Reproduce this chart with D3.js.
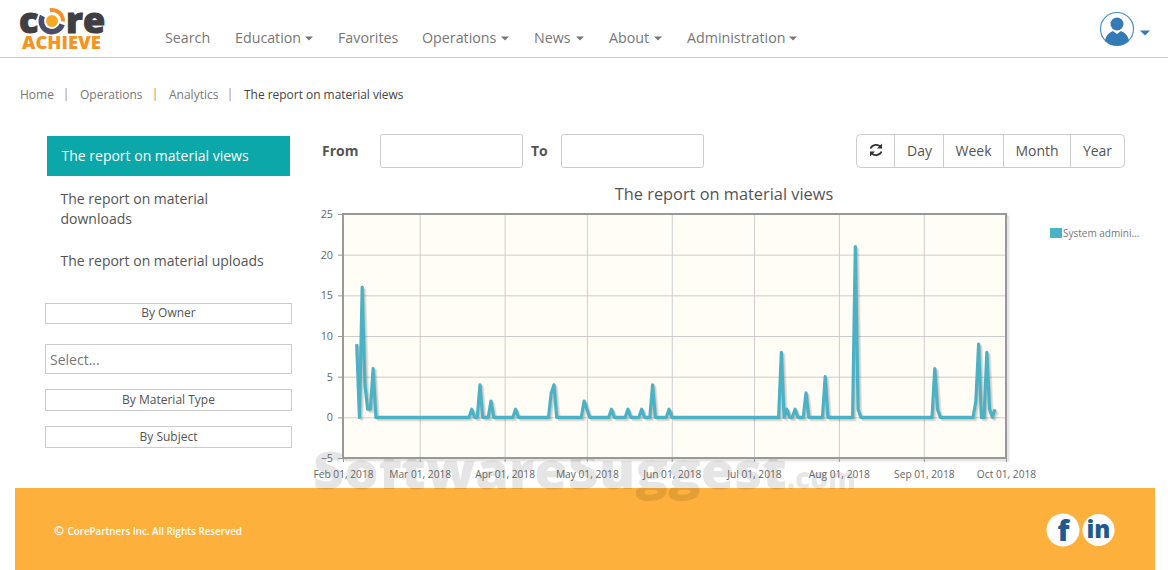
<!DOCTYPE html>
<html>
<head>
<meta charset="utf-8">
<script src="https://cdn.jsdelivr.net/npm/d3@7"></script>
<style>
  html, body { margin: 0; padding: 0; background: #fff; overflow: hidden; }
  svg { display: block; }
  text { font-family: 'Open Sans', sans-serif; }
</style>
</head>
<body>
<div id="page"></div>
<script>
// views per day, first value is Feb 06, 2018
const firstDay = '2018-02-06';
const views = [
  9, 0, 16, 4, 1,
  1, 6, 0, 0, 0, 0, 0, 0, 0, 0,
  0, 0, 0, 0, 0, 0, 0, 0, 0, 0,
  0, 0, 0, 0, 0, 0, 0, 0, 0, 0,
  0, 0, 0, 0, 0, 0, 0, 1, 0, 0,
  4, 0, 0, 0, 2, 0, 0, 0, 0, 0,
  0, 0, 0, 1, 0, 0, 0, 0, 0, 0,
  0, 0, 0, 0, 0, 0, 3, 4, 0, 0,
  0, 0, 0, 0, 0, 0, 0, 0, 2, 1,
  0, 0, 0, 0, 0, 0, 0, 0, 1, 0,
  0, 0, 0, 0, 1, 0, 0, 0, 0, 1,
  0, 0, 0, 4, 0, 0, 0, 0, 0, 1,
  0, 0, 0, 0, 0, 0, 0, 0, 0, 0,
  0, 0, 0, 0, 0, 0, 0, 0, 0, 0,
  0, 0, 0, 0, 0, 0, 0, 0, 0, 0,
  0, 0, 0, 0, 0, 0, 0, 0, 0, 0,
  8, 0, 1, 0, 0, 1, 0, 0, 0, 3,
  0, 0, 0, 0, 0, 0, 5, 0, 0, 0,
  0, 0, 0, 0, 0, 0, 0, 21, 1, 0,
  0, 0, 0, 0, 0, 0, 0, 0, 0, 0,
  0, 0, 0, 0, 0, 0, 0, 0, 0, 0,
  0, 0, 0, 0, 0, 0, 6, 1, 0, 0,
  0, 0, 0, 0, 0, 0, 0, 0, 0, 0,
  0, 2, 9, 0, 0, 8, 1, 0, 1
];
const xTicks = ['2018-02-01', '2018-03-01', '2018-04-01', '2018-05-01', '2018-06-01',
  '2018-07-01', '2018-08-01', '2018-09-01', '2018-10-01'];
const yTicks = [-5, 0, 5, 10, 15, 20, 25];
const seriesName = 'System admini...';
const chartTitle = 'The report on material views';

const width = 1168;
const height = 570;
const plot = { left: 343, right: 1006, top: 214, bottom: 458 };
const lineColor = '#4bb2c5';

const svg = d3.select('#page')
  .append('svg')
  .attr('width', width)
  .attr('height', height);

const label = (txt, x, y, size, fill, anchor, weight) => svg.append('text')
  .attr('x', x)
  .attr('y', y)
  .attr('font-size', size)
  .attr('fill', fill)
  .attr('text-anchor', anchor || 'start')
  .attr('font-weight', weight || 400)
  .text(txt);

const box = (x0, y0, x1, y1, rx) => svg.append('rect')
  .attr('x', x0 + 0.5)
  .attr('y', y0 + 0.5)
  .attr('width', x1 - x0)
  .attr('height', y1 - y0)
  .attr('rx', rx || 0)
  .attr('fill', '#fff')
  .attr('stroke', '#ccc');

const caret = (x, y, w, color) => svg.append('path')
  .attr('d', `M${x},${y}h${w}l${-w / 2},${w / 2}z`)
  .attr('fill', color);

// header
svg.append('line').attr('x1', 0).attr('x2', width).attr('y1', 57.5).attr('y2', 57.5).attr('stroke', '#ccc');

const logo = svg.append('g');
logo.append('text').attr('x', 19).attr('y', 33).attr('font-size', 36).attr('font-weight', 800)
  .attr('fill', '#3f3f41').attr('stroke', '#3f3f41').attr('stroke-width', 1).text('c');
logo.append('text').attr('x', 66).attr('y', 33).attr('font-size', 36).attr('font-weight', 800)
  .attr('fill', '#3f3f41').attr('stroke', '#3f3f41').attr('stroke-width', 1).text('re');
logo.append('path').attr('d', d3.arc()({ innerRadius: 8, outerRadius: 13.5, startAngle: 1.9, endAngle: 5.2 }))
  .attr('transform', 'translate(52,21)').attr('fill', '#4a4c6a');
logo.append('path').attr('d', d3.arc()({ innerRadius: 9, outerRadius: 13, startAngle: -0.2, endAngle: 1.6 }))
  .attr('transform', 'translate(52,21)').attr('fill', '#f58f29');
logo.append('circle').attr('cx', 52).attr('cy', 21).attr('r', 6).attr('fill', '#f9a825');
label('ACHIEVE', 22, 49, 16.8, '#f7941e', 'start', 800).attr('textLength', 79).attr('lengthAdjust', 'spacingAndGlyphs');

const navItems = [['Search', 165], ['Education', 235, 305], ['Favorites', 338], ['Operations', 422, 501],
  ['News', 534, 576], ['About', 609, 654], ['Administration', 687, 789]];
navItems.forEach(([name, x, caretX]) => {
  label(name, x, 43, 14.25, '#777');
  if (caretX) caret(caretX, 36.5, 8, '#777');
});

svg.append('circle').attr('cx', 1117).attr('cy', 29).attr('r', 16.5).attr('fill', '#fff').attr('stroke', '#4a90c8').attr('stroke-width', 1.2);
svg.append('circle').attr('cx', 1117).attr('cy', 24).attr('r', 6.5).attr('fill', '#337ab7');
svg.append('path').attr('d', 'M1105,41c1,-7 6,-9 8,-10l4,3l4,-3c2,1 7,3 8,10c-6,6 -18,6 -24,0z').attr('fill', '#337ab7');
caret(1140, 30.5, 10, '#337ab7');

// breadcrumb
label('Home', 20, 99, 12, '#777');
label('Operations', 80, 99, 12, '#777');
label('Analytics', 169, 99, 12, '#777');
label('The report on material views', 244, 99, 11.95, '#444');
[66, 155, 230].forEach((x) => label('|', x, 98, 12, '#b08a60', 'middle'));

// left menu
svg.append('rect').attr('x', 47).attr('y', 136).attr('width', 243).attr('height', 40).attr('fill', '#0ba7a9');
label('The report on material views', 61.5, 161, 14, '#fff');
label('The report on material', 60.5, 204, 14, '#555');
label('downloads', 60.5, 224, 14, '#555');
label('The report on material uploads', 60.5, 266, 14, '#555');

box(45, 303, 291, 323);
label('By Owner', 168.5, 317, 12, '#555', 'middle');
box(45, 344, 291, 373);
label('Select...', 50, 365, 14, '#777');
box(45, 389, 291, 410);
label('By Material Type', 168.5, 404, 12, '#555', 'middle');
box(45, 426, 291, 447);
label('By Subject', 168.5, 441, 12, '#555', 'middle');

// date filter
label('From', 322, 156, 14, '#555', 'start', 700);
box(380, 134, 522, 167, 2);
label('To', 531, 156, 14, '#555', 'start', 700);
box(561, 134, 703, 167, 2);

box(856, 134, 1124, 167, 4);
[894, 943, 1003, 1070].forEach((x) => {
  svg.append('line').attr('x1', x + 0.5).attr('x2', x + 0.5).attr('y1', 134).attr('y2', 168).attr('stroke', '#ccc');
});
[['Day', 919.5], ['Week', 973.5], ['Month', 1037], ['Year', 1097.5]].forEach(([name, x]) => {
  label(name, x, 156, 14, '#555', 'middle');
});
const refresh = svg.append('g').attr('transform', 'translate(876,150)').attr('fill', 'none').attr('stroke', '#333').attr('stroke-width', 1.8);
refresh.append('path').attr('d', 'M-5.5,-1.5A6,6 0 0 1 5,-2.5');
refresh.append('path').attr('d', 'M5.5,1.5A6,6 0 0 1 -5,2.5');
refresh.append('path').attr('d', 'M6,-6.5v5h-5z').attr('fill', '#333').attr('stroke', 'none');
refresh.append('path').attr('d', 'M-6,6.5v-5h5z').attr('fill', '#333').attr('stroke', 'none');

// footer
svg.append('rect').attr('x', 15).attr('y', 488).attr('width', 1140).attr('height', 82).attr('fill', '#fdb03b');
label('©', 54, 535, 12, '#fff', 'start', 700);
label('CorePartners Inc. All Rights Reserved', 67.5, 535, 9.8, '#fff', 'start', 600);
svg.append('circle').attr('cx', 1063).attr('cy', 530).attr('r', 16.5).attr('fill', '#fff');
svg.append('circle').attr('cx', 1098.5).attr('cy', 530).attr('r', 16).attr('fill', '#fff');
label('f', 1063.5, 541, 29, '#1f5a8f', 'middle', 800);
label('in', 1098.5, 538, 24, '#1f5a8f', 'middle', 800);

// watermark sits under the chart labels
svg.append('text')
  .attr('x', 313)
  .attr('y', 489)
  .attr('font-size', 52)
  .attr('font-weight', 800)
  .attr('fill', '#000')
  .attr('fill-opacity', 0.1)
  .attr('textLength', 474)
  .attr('lengthAdjust', 'spacingAndGlyphs')
  .text('SoftwareSuggest');
svg.append('text')
  .attr('x', 787)
  .attr('y', 489)
  .attr('font-size', 30)
  .attr('font-weight', 800)
  .attr('fill', '#000')
  .attr('fill-opacity', 0.1)
  .attr('textLength', 69)
  .attr('lengthAdjust', 'spacingAndGlyphs')
  .text('.com');

// chart
const parseDay = d3.utcParse('%Y-%m-%d');
const data = views.map((v, i) => ({ date: d3.utcDay.offset(parseDay(firstDay), i), value: v }));

const x = d3.scaleUtc()
  .domain([parseDay(xTicks[0]), parseDay(xTicks[xTicks.length - 1])])
  .range([plot.left, plot.right]);
const y = d3.scaleLinear()
  .domain([yTicks[0], yTicks[yTicks.length - 1]])
  .range([plot.bottom, plot.top]);

label(chartTitle, 724, 200, 16.35, '#555', 'middle');

// frame shadow
[1, 2, 3].forEach((i) => {
  svg.append('rect')
    .attr('x', plot.left + i).attr('y', plot.top + i)
    .attr('width', plot.right - plot.left).attr('height', plot.bottom - plot.top)
    .attr('fill', 'none').attr('stroke', '#000').attr('stroke-opacity', 0.05).attr('stroke-width', 2);
});
svg.append('rect')
  .attr('x', plot.left).attr('y', plot.top)
  .attr('width', plot.right - plot.left).attr('height', plot.bottom - plot.top)
  .attr('fill', '#fffdf6');

// gridlines
const xGrid = svg.append('g')
  .attr('transform', `translate(0,${plot.bottom})`)
  .call(d3.axisBottom(x).tickValues(xTicks.map(parseDay)).tickSize(-(plot.bottom - plot.top)).tickFormat(''));
const yGrid = svg.append('g')
  .attr('transform', `translate(${plot.left},0)`)
  .call(d3.axisLeft(y).tickValues(yTicks).tickSize(-(plot.right - plot.left)).tickFormat(''));
[xGrid, yGrid].forEach((g) => {
  g.select('.domain').remove();
  g.selectAll('line').attr('stroke', '#cccccc').attr('stroke-width', 1);
});

// axes
const xAxis = svg.append('g')
  .attr('transform', `translate(0,${plot.bottom})`)
  .call(d3.axisBottom(x).tickValues(xTicks.map(parseDay)).tickSize(4).tickPadding(9).tickFormat(d3.utcFormat('%b %d, %Y')));
const yAxis = svg.append('g')
  .attr('transform', `translate(${plot.left},0)`)
  .call(d3.axisLeft(y).tickValues(yTicks).tickSize(5).tickPadding(5));
[xAxis, yAxis].forEach((g) => {
  g.select('.domain').remove();
  g.selectAll('line').attr('stroke', '#999');
  g.selectAll('text').attr('font-size', 10.2).attr('fill', '#666');
});
yAxis.selectAll('text').attr('font-size', 10.8);

const line = d3.line()
  .x((d) => x(d.date))
  .y((d) => y(d.value));

[3, 2, 1].forEach((i) => {
  svg.append('path')
    .datum(data)
    .attr('d', line)
    .attr('transform', `translate(${i * 0.9},${i * 0.9})`)
    .attr('fill', 'none')
    .attr('stroke', '#000')
    .attr('stroke-opacity', 0.08)
    .attr('stroke-width', 3)
    .attr('stroke-linejoin', 'round');
});
svg.append('path')
  .datum(data)
  .attr('d', line)
  .attr('fill', 'none')
  .attr('stroke', lineColor)
  .attr('stroke-width', 3.2)
  .attr('stroke-linejoin', 'round');

// plot frame
svg.append('rect')
  .attr('x', plot.left).attr('y', plot.top)
  .attr('width', plot.right - plot.left).attr('height', plot.bottom - plot.top)
  .attr('fill', 'none').attr('stroke', '#999').attr('stroke-width', 2);

// legend
svg.append('rect').attr('x', 1050).attr('y', 228).attr('width', 12).attr('height', 10).attr('fill', lineColor);
label(seriesName, 1063, 237, 10, '#777');
</script>
</body>
</html>
